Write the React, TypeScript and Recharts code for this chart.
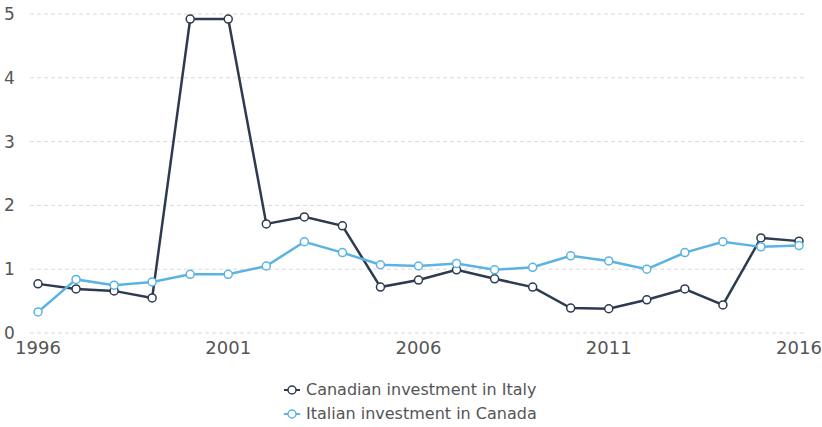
import { CartesianGrid, Line, LineChart, XAxis, YAxis } from "recharts";

const years = [
  1996, 1997, 1998, 1999, 2000, 2001, 2002, 2003, 2004, 2005, 2006, 2007, 2008, 2009, 2010, 2011, 2012,
  2013, 2014, 2015, 2016,
];
const canadianInItaly = [
  0.77, 0.69, 0.66, 0.55, 4.92, 4.92, 1.71, 1.82, 1.68, 0.72, 0.83, 0.99, 0.85, 0.72, 0.39, 0.38, 0.52,
  0.69, 0.44, 1.49, 1.44,
];
const italianInCanada = [
  0.33, 0.84, 0.75, 0.8, 0.92, 0.92, 1.05, 1.43, 1.26, 1.07, 1.05, 1.09, 0.99, 1.03, 1.21, 1.13, 1.0,
  1.26, 1.43, 1.35, 1.37,
];
const xTicks = [1996, 2001, 2006, 2011, 2016];
const yTicks = [0, 1, 2, 3, 4, 5];

const DARK = "#2c3b51";
const LIGHT = "#5bb3e3";
const FONT = "'DejaVu Sans', sans-serif";

const data = years.map((year, i) => ({
  year,
  canada: canadianInItaly[i],
  italy: italianInCanada[i],
}));

const legendItems = [
  { label: "Canadian investment in Italy", color: DARK },
  { label: "Italian investment in Canada", color: LIGHT },
];

const LegendIcon = ({ color }: { color: string }) => (
  <svg width={16} height={12} style={{ marginRight: 6 }}>
    <line x1={0} y1={6} x2={16} y2={6} stroke={color} strokeWidth={2} />
    <circle cx={8} cy={6} r={4} fill="#fff" stroke={color} strokeWidth={1.5} />
  </svg>
);

const App = () => {
  return (
    <div style={{ position: "fixed", left: 0, top: 0, width: 822, height: 427, background: "#fff", fontFamily: FONT }}>
      <LineChart width={822} height={370} data={data} margin={{ top: 14, right: 17, left: 0, bottom: 0 }}>
        <CartesianGrid vertical={false} stroke="#d9d9d9" strokeDasharray="4 3" />
        <XAxis
          dataKey="year"
          type="number"
          domain={[1996, 2016]}
          ticks={xTicks}
          padding={{ left: 8, right: 6 }}
          axisLine={false}
          tickLine={false}
          height={37}
          tick={{ fontSize: 18, fill: "#555", fontFamily: FONT }}
        />
        <YAxis
          domain={[0, 5]}
          ticks={yTicks}
          width={30}
          axisLine={false}
          tickLine={false}
          tick={{ fontSize: 17, fill: "#555", fontFamily: FONT, textAnchor: "start", dx: -18 }}
        />
        <Line
          dataKey="canada"
          stroke={DARK}
          strokeWidth={2.5}
          dot={{ r: 4, fill: "#fff", stroke: DARK, strokeWidth: 1.5 }}
          isAnimationActive={false}
        />
        <Line
          dataKey="italy"
          stroke={LIGHT}
          strokeWidth={2.5}
          dot={{ r: 4, fill: "#fff", stroke: LIGHT, strokeWidth: 1.5 }}
          isAnimationActive={false}
        />
      </LineChart>
      <div style={{ position: "absolute", left: 284, top: 378, fontSize: 16, color: "#555", lineHeight: "24px" }}>
        {legendItems.map((item) => (
          <div key={item.label} style={{ display: "flex", alignItems: "center" }}>
            <LegendIcon color={item.color} />
            <span>{item.label}</span>
          </div>
        ))}
      </div>
    </div>
  );
};

export default App;
